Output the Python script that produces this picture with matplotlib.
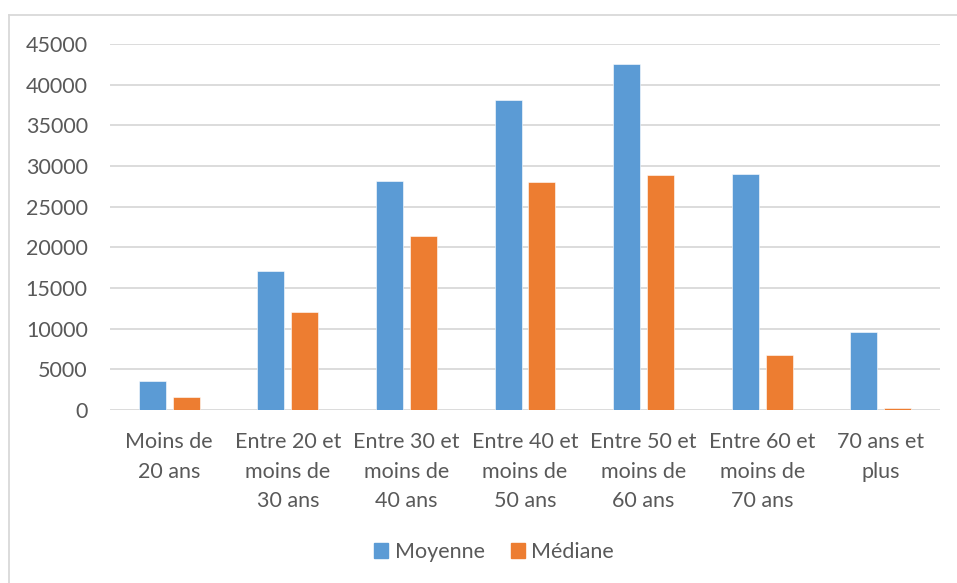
import matplotlib
matplotlib.use("Agg")
import matplotlib.pyplot as plt
import numpy as np
from matplotlib.lines import Line2D

categories = ["Moins de\n20 ans", "Entre 20 et\nmoins de\n30 ans", "Entre 30 et\nmoins de\n40 ans",
              "Entre 40 et\nmoins de\n50 ans", "Entre 50 et\nmoins de\n60 ans", "Entre 60 et\nmoins de\n70 ans",
              "70 ans et\nplus"]
moyenne = [3600, 17100, 28200, 38100, 42500, 29000, 9600]
mediane = [1600, 12000, 21400, 28050, 28900, 6750, 300]
yticks = list(range(0, 45001, 5000))

plt.rcParams['font.family'] = ['Lato', 'DejaVu Sans']
W, H = 957, 583
fig = plt.figure(figsize=(W/100, H/100), dpi=100)
ax = fig.add_axes([110/W, 1-410/H, 830/W, 366/H])

x = np.arange(len(categories))
bw = 0.228
off = 0.143
c1, c2 = "#5b9bd5", "#ed7d31"
ax.bar(x - off, moyenne, bw, color=c1, edgecolor="white", linewidth=0.4, label="Moyenne", zorder=3)
ax.bar(x + off, mediane, bw, color=c2, edgecolor="white", linewidth=0.4, label="Médiane", zorder=3)

ax.set_xlim(-0.5, len(categories) - 0.5)
ax.set_ylim(0, 45000)
ax.set_yticks(yticks)
ax.set_yticklabels([str(v) for v in yticks])
ax.set_xticks(x)
ax.set_xticklabels(categories, linespacing=1.6)
ax.tick_params(axis='both', length=0, colors="#595959", labelsize=15.5)
ax.tick_params(axis='y', pad=16)
ax.tick_params(axis='x', pad=16)
ax.grid(axis='y', color="#d9d9d9", linewidth=1.3, zorder=0)
for s in ax.spines.values():
    s.set_visible(False)

handles = [plt.Rectangle((0, 0), 1, 1, color=c1), plt.Rectangle((0, 0), 1, 1, color=c2)]
fig.legend(handles, ["Moyenne", "Médiane"], loc="center", bbox_to_anchor=(494/W, 1-552/H),
           ncol=2, frameon=False, fontsize=15.5, labelcolor="#595959",
           handlelength=0.65, handleheight=0.65, handletextpad=0.3, columnspacing=1.2)

# chart frame (left and top edges)
fig.add_artist(Line2D([9/W, 9/W], [0, 1-15/H], color="#d9d9d9", linewidth=1.3, transform=fig.transFigure))
fig.add_artist(Line2D([9/W, 1], [1-15/H, 1-15/H], color="#d9d9d9", linewidth=1.3, transform=fig.transFigure))

fig.savefig("out.png", dpi=100, facecolor="white")
